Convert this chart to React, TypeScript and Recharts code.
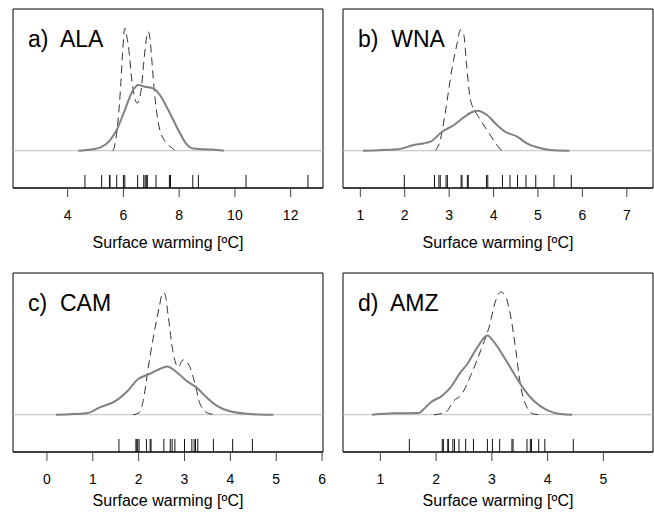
import { ComposedChart, Line, XAxis, YAxis, ReferenceLine, ReferenceArea } from 'recharts';

type Pt = { x: number; y: number };

const FONT = '"Liberation Sans", Arial, Helvetica, sans-serif';

// densities, in units of the box height above the baseline
const alaModels: number[][] = [[4.38, 0], [4.9, 0.01], [5.2, 0.025], [5.5, 0.07], [5.76, 0.146], [6.05, 0.287], [6.35, 0.428], [6.53, 0.464], [6.77, 0.452], [7.07, 0.44], [7.31, 0.393], [7.55, 0.31], [7.79, 0.217], [8.03, 0.123], [8.25, 0.05], [8.5, 0.015], [8.9, 0.01], [9.2, 0.008], [9.6, 0]];
const alaPosterior: number[][] = [[5.62, 0], [5.66, 0.017], [5.81, 0.217], [5.9, 0.45], [5.97, 0.687], [6.05, 0.864], [6.13, 0.8], [6.21, 0.687], [6.29, 0.52], [6.41, 0.37], [6.5, 0.335], [6.58, 0.37], [6.65, 0.45], [6.75, 0.663], [6.89, 0.84], [6.96, 0.78], [7.01, 0.663], [7.13, 0.38], [7.28, 0.17], [7.55, 0.052], [7.76, 0.017], [7.85, 0]];
const alaRug = [4.62, 5.22, 5.5, 5.52, 5.76, 6.0, 6.05, 6.51, 6.73, 6.78, 6.82, 6.86, 7.17, 7.65, 7.69, 8.49, 8.69, 10.4, 12.62];

const wnaModels: number[][] = [[1.06, 0], [1.83, 0.01], [2.2, 0.04], [2.58, 0.064], [2.84, 0.134], [3.1, 0.18], [3.33, 0.235], [3.48, 0.268], [3.63, 0.282], [3.85, 0.252], [4.08, 0.18], [4.26, 0.134], [4.53, 0.1], [4.75, 0.052], [4.98, 0.024], [5.28, 0.005], [5.71, 0]];
const wnaPosterior: number[][] = [[2.69, 0], [2.8, 0.075], [2.91, 0.264], [3.06, 0.57], [3.18, 0.758], [3.25, 0.852], [3.33, 0.816], [3.39, 0.617], [3.48, 0.358], [3.66, 0.24], [3.85, 0.146], [4.0, 0.075], [4.15, 0.012], [4.23, 0]];
const wnaRug = [1.99, 2.67, 2.77, 2.8, 2.93, 2.96, 3.27, 3.29, 3.41, 3.43, 3.84, 3.87, 4.2, 4.37, 4.54, 4.73, 4.95, 5.36, 5.75];

const camModels: number[][] = [[0.2, 0], [0.86, 0.01], [1.15, 0.052], [1.51, 0.1], [1.73, 0.158], [1.99, 0.252], [2.24, 0.288], [2.46, 0.323], [2.62, 0.34], [2.83, 0.3], [3.04, 0.24], [3.26, 0.193], [3.48, 0.123], [3.7, 0.064], [3.99, 0.024], [4.43, 0.005], [4.94, 0]];
const camPosterior: number[][] = [[1.88, 0], [2.02, 0.017], [2.1, 0.1], [2.21, 0.335], [2.32, 0.547], [2.45, 0.76], [2.52, 0.858], [2.57, 0.854], [2.64, 0.71], [2.72, 0.5], [2.79, 0.382], [2.86, 0.335], [2.97, 0.387], [3.12, 0.335], [3.23, 0.217], [3.34, 0.075], [3.52, 0.01], [3.7, 0]];
const camRug = [1.57, 1.94, 1.96, 1.98, 2.01, 2.17, 2.25, 2.27, 2.55, 2.69, 2.73, 2.79, 3.0, 3.16, 3.21, 3.24, 3.29, 3.63, 4.05, 4.48];

const amzModels: number[][] = [[0.85, 0], [1.24, 0.01], [1.69, 0.012], [1.78, 0.04], [1.9, 0.087], [2.11, 0.134], [2.26, 0.193], [2.44, 0.3], [2.56, 0.358], [2.74, 0.476], [2.92, 0.559], [3.04, 0.512], [3.22, 0.406], [3.4, 0.288], [3.57, 0.182], [3.75, 0.099], [3.99, 0.033], [4.23, 0.005], [4.44, 0]];
const amzPosterior: number[][] = [[1.96, 0], [2.17, 0.017], [2.32, 0.1], [2.44, 0.134], [2.62, 0.276], [2.8, 0.453], [2.95, 0.618], [3.07, 0.807], [3.16, 0.866], [3.25, 0.83], [3.34, 0.689], [3.43, 0.453], [3.51, 0.217], [3.63, 0.052], [3.75, 0.005], [3.9, 0]];
const amzRug = [1.52, 2.11, 2.13, 2.21, 2.22, 2.3, 2.33, 2.41, 2.53, 2.67, 2.92, 3.01, 3.14, 3.36, 3.38, 3.63, 3.69, 3.71, 3.84, 3.95, 4.46];

const panels = [
  { tag: 'a)', name: 'ALA', models: alaModels, posterior: alaPosterior, rug: alaRug, domain: [2.04, 13.16], ticks: [4, 6, 8, 10, 12], left: 0, top: 0, titleOffset: 0 },
  { tag: 'b)', name: 'WNA', models: wnaModels, posterior: wnaPosterior, rug: wnaRug, domain: [0.61, 7.59], ticks: [1, 2, 3, 4, 5, 6, 7], left: 330, top: 0, titleOffset: 0 },
  { tag: 'c)', name: 'CAM', models: camModels, posterior: camPosterior, rug: camRug, domain: [-0.74, 6.02], ticks: [0, 1, 2, 3, 4, 5, 6], left: 0, top: 264, titleOffset: 6 },
  { tag: 'd)', name: 'AMZ', models: amzModels, posterior: amzPosterior, rug: amzRug, domain: [0.33, 5.89], ticks: [1, 2, 3, 4, 5], left: 330, top: 264, titleOffset: 6 },
];

const Y_MIN = -0.263;
const RUG_TOP = -0.171;

const toPts = (arr: number[][]): Pt[] => arr.map(([x, y]) => ({ x, y }));

const Panel = ({ p }: { p: (typeof panels)[number] }) => (
  <div style={{ position: 'absolute', left: p.left, top: p.top, width: 330, height: 264 }}>
    <ComposedChart width={330} height={264} margin={{ top: 9, right: 7, left: 13, bottom: 16 }}>
      <XAxis
        type="number"
        dataKey="x"
        domain={p.domain}
        allowDataOverflow
        ticks={p.ticks}
        interval={0}
        height={60}
        tickSize={9}
        tickMargin={13}
        stroke="#000"
        tickLine={{ stroke: '#444' }}
        tick={{ fill: '#000', fontSize: 14, fontFamily: FONT }}
        label={{ value: 'Surface warming [ºC]', position: 'insideBottom', offset: p.titleOffset, fill: '#000', fontSize: 16, fontFamily: FONT }}
      />
      <YAxis type="number" domain={[Y_MIN, 1]} allowDataOverflow hide />
      <ReferenceArea x1={p.domain[0]} x2={p.domain[1]} y1={Y_MIN} y2={1} fill="none" stroke="#000" strokeWidth={1} />
      <ReferenceLine y={0} stroke="#bdbdbd" strokeWidth={1} />
      {p.rug.map((v, i) => (
        <ReferenceLine key={i} segment={[{ x: v, y: RUG_TOP }, { x: v, y: Y_MIN }]} stroke="#111" strokeWidth={1} />
      ))}
      <Line data={toPts(p.posterior)} dataKey="y" type="monotone" stroke="#333" strokeWidth={1} strokeDasharray="8 5" dot={false} isAnimationActive={false} />
      <Line data={toPts(p.models)} dataKey="y" type="monotone" stroke="#808080" strokeWidth={2} dot={false} isAnimationActive={false} />
    </ComposedChart>
    <div style={{ position: 'absolute', left: 28, top: 28, fontFamily: FONT, fontSize: 23, lineHeight: '22px', whiteSpace: 'pre', color: '#000' }}>
      {p.tag + '  ' + p.name}
    </div>
  </div>
);

export default function App() {
  return (
    <div style={{ position: 'absolute', left: 0, top: 0, width: 654, height: 514, background: '#fff' }}>
      {panels.map((p) => (
        <Panel key={p.tag} p={p} />
      ))}
    </div>
  );
}
